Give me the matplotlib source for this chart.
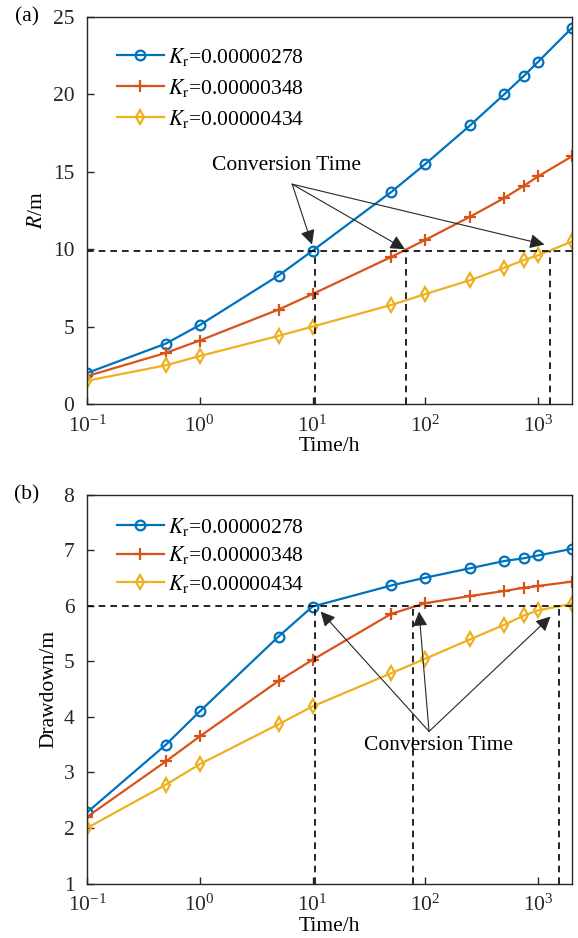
import numpy as np
import matplotlib
matplotlib.use('Agg')
import matplotlib.pyplot as plt

plt.rcParams['font.family'] = ['Liberation Serif', 'DejaVu Serif']
plt.rcParams['mathtext.fontset'] = 'stix'
plt.rcParams['font.size'] = 15.5

# time points (h)
t = [0.1, 0.5, 1, 5, 10, 50, 100, 250, 500, 750, 1000, 2000]
labels = ['0.00000278', '0.00000348', '0.00000434']

# (a) influence radius R/m
R1 = [2.0, 3.9, 5.1, 8.3, 9.9, 13.7, 15.5, 18.0, 20.0, 21.2, 22.1, 24.3]
R2 = [1.8, 3.3, 4.1, 6.1, 7.1, 9.5, 10.6, 12.1, 13.3, 14.1, 14.7, 16.0]
R3 = [1.5, 2.5, 3.1, 4.4, 5.0, 6.4, 7.1, 8.0, 8.8, 9.3, 9.6, 10.5]

# (b) drawdown/m
s1 = [2.28, 3.5, 4.1, 5.45, 5.99, 6.37, 6.51, 6.68, 6.81, 6.86, 6.91, 7.03]
s2 = [2.2, 3.2, 3.65, 4.65, 5.03, 5.86, 6.05, 6.18, 6.27, 6.33, 6.36, 6.44]
s3 = [2.0, 2.78, 3.15, 3.87, 4.19, 4.79, 5.05, 5.40, 5.66, 5.83, 5.92, 6.04]

# conversion times
Rc = 9.9
tc_a = [10.5, 67, 1270]
sc = 6.0
tc_b = [10.6, 78, 1530]

colors = ['#0072BD', '#D95319', '#EDB120']
markers = ['o', '+', 'd']
msizes = [7, 8, 7]

fig = plt.figure(figsize=(5.78, 9.38), dpi=100)
ax1 = fig.add_axes([0.1505, 0.5693, 0.8391, 0.4126])
ax2 = fig.add_axes([0.1505, 0.0581, 0.8391, 0.4142])


def draw(ax, ys, yc, tcs, ylim, yticks, ylabel, leg_y, leg_sp):
    for y, c, m, ms, lab in zip(ys, colors, markers, msizes, labels):
        ax.plot(t, y, color=c, marker=m, ms=ms, mfc='none', mew=1.6, lw=1.6,
                label=r'$K_\mathrm{r}$=' + lab)
    ax.set_xscale('log')
    ax.set_xlim(0.1, 2000)
    ax.set_ylim(*ylim)
    ax.set_yticks(yticks)
    ax.set_xticks([0.1, 1, 10, 100, 1000])
    ax.minorticks_off()
    ax.axhline(yc, color='k', ls='--', lw=1.2, dashes=(4, 3))
    for tc in tcs:
        ax.plot([tc, tc], [ylim[0], yc], color='k', ls='--', lw=1.2, dashes=(4, 3))
    ax.tick_params(direction='in', length=5, width=1, colors='#262626')
    ax.tick_params(axis='y', pad=9)
    ax.tick_params(axis='x', pad=8)
    for sp in ax.spines.values():
        sp.set_color('#262626')
        sp.set_linewidth(1.0)
    ax.set_xlabel('Time/h', labelpad=0.5)
    ax.set_ylabel(ylabel, labelpad=4)
    ax.legend(loc='upper left', frameon=False, handlelength=2.2,
              borderaxespad=0.3, labelspacing=leg_sp, handletextpad=0.2,
              bbox_to_anchor=(0.03, leg_y))


draw(ax1, [R1, R2, R3], Rc, tc_a, (0, 25), [0, 5, 10, 15, 20, 25], r'$R$/m',
     0.965, 0.42)
draw(ax2, [s1, s2, s3], sc, tc_b, (1, 8), range(1, 9), 'Drawdown/m',
     0.985, 0.3)

arr = dict(arrowstyle='-|>', color='#262626', lw=0.8, mutation_scale=22,
           shrinkA=0, shrinkB=0)

ax1.text(5.9, 15.4, 'Conversion Time', ha='center', va='center')
for tip in [(9.9, 10.3), (66, 10.0), (1140, 10.3)]:
    ax1.annotate('', xy=tip, xytext=(6.6, 14.2), arrowprops=arr)

ax2.text(132, 3.48, 'Conversion Time', ha='center', va='center')
for tip in [(11.8, 5.90), (88, 5.90), (1290, 5.81)]:
    ax2.annotate('', xy=tip, xytext=(108, 3.74), arrowprops=arr)

fig.text(27 / 578, 1 - 17 / 938, '(a)', ha='center', va='center')
fig.text(27 / 578, 1 - 495 / 938, '(b)', ha='center', va='center')

fig.savefig('out.png', dpi=100)
